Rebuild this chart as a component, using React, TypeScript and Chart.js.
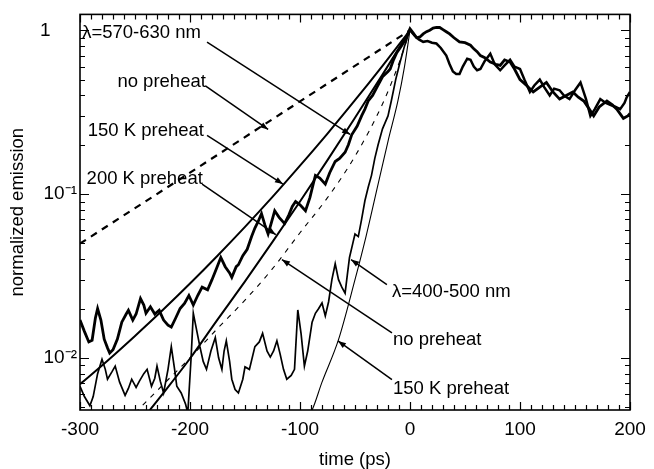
import React, { useEffect, useRef } from 'react';
import Chart from 'chart.js/auto';

// ---------- data ----------
const xTickValues = [-300, -200, -100, 0, 100, 200];
const yTickValues = [0.01, 0.1, 1];
const yTickLabels = ['10\u207B\u00B2', '10\u207B\u00B9', '1     '];

// measured emission, λ = 570-630 nm (thick noisy)
const redTimes = [
  -300, -296, -292, -289, -286, -284, -281, -278, -275, -273,
  -270, -266, -262, -258, -256, -252, -249, -245, -242, -240,
  -236, -232, -228, -224, -220, -217, -213, -209, -205, -201,
  -197, -193, -189, -184, -180, -176, -172, -168, -164, -162,
  -158, -156, -152, -148, -144, -141, -138, -135, -132, -129,
  -126, -123, -119, -114, -110, -107, -104, -100, -95, -91,
  -88, -86, -82, -77, -73, -68, -64, -59, -56, -53,
  -48, -44, -41, -38, -34, -30, -25, -20, -18, -15,
  -12, -8, -5, -2, 0,
  3, 6, 9, 12, 15, 18, 21, 24, 27, 30,
  33, 36, 40, 45, 50, 55, 58, 61, 64, 68,
  73, 78, 82, 86, 91, 95, 100, 106, 112, 118,
  124, 130, 136, 142, 148, 153, 158, 163, 167, 172,
  179, 184, 188, 194, 198, 200,
];
const redValues = [
  0.017, 0.0145, 0.0125, 0.0128, 0.0175, 0.020, 0.017, 0.013, 0.0115, 0.0107,
  0.0112, 0.013, 0.0165, 0.0185, 0.0195, 0.017, 0.0185, 0.023, 0.021, 0.0187,
  0.0205, 0.0185, 0.0195, 0.017, 0.0158, 0.0154, 0.0175, 0.020, 0.0215, 0.024,
  0.021, 0.024, 0.027, 0.026, 0.030, 0.035, 0.041, 0.036, 0.033, 0.031,
  0.036, 0.037, 0.042, 0.046, 0.055, 0.062, 0.068, 0.076, 0.065, 0.057,
  0.067, 0.079, 0.072, 0.066, 0.075, 0.084, 0.090, 0.086, 0.079, 0.095,
  0.115, 0.13, 0.125, 0.115, 0.135, 0.158, 0.165, 0.18, 0.2, 0.23,
  0.26, 0.30, 0.33, 0.37, 0.40, 0.45, 0.52, 0.56, 0.58, 0.66,
  0.73, 0.80, 0.86, 0.95, 1.02,
  0.96, 0.90, 0.91, 0.95, 0.98, 1.0, 1.03, 1.04, 1.04, 1.01,
  0.98, 0.95, 0.90, 0.85, 0.84, 0.81, 0.77, 0.74, 0.70, 0.68,
  0.64, 0.62, 0.61, 0.66, 0.64, 0.58, 0.50, 0.46, 0.42, 0.45,
  0.48, 0.42, 0.38, 0.40, 0.42, 0.39, 0.37, 0.33, 0.30, 0.34,
  0.37, 0.35, 0.33, 0.29, 0.30, 0.31,
];

// measured emission, λ = 400-500 nm (thin noisy)
const blueTimes = [
  -300, -296, -291, -288, -284, -280, -277, -275, -271, -268,
  -264, -259, -256, -253, -249, -246, -242, -239, -235, -232,
  -230, -227, -224, -220, -217, -214, -212, -208, -204, -202,
  -199, -197, -195, -191, -188, -185, -181, -177, -174, -171,
  -169, -167, -164, -162, -159, -156, -152, -150, -146, -141,
  -137, -134, -130, -127, -124, -121, -118, -115, -112, -108,
  -105, -102, -99, -96, -93, -89, -86, -83, -80, -77,
  -74, -71, -68, -65, -62, -59, -57, -55, -52, -50,
  -47, -44, -41, -38, -35, -32, -29, -25, -20, -17,
  -13, -9, -5, -2, 0,
  4, 8, 12, 16, 20, 24, 28, 33, 36, 39,
  42, 45, 48, 52, 55, 58, 61, 64, 68, 73,
  77, 82, 86, 91, 95, 100, 104, 109, 113, 118,
  122, 127, 131, 136, 140, 145, 150, 155, 160, 164,
  168, 173, 178, 182, 187, 191, 195, 197, 200,
];
const blueValues = [
  0.0067, 0.0058, 0.0051, 0.0058, 0.0080, 0.0098, 0.0085, 0.0074, 0.0082, 0.0089,
  0.0071, 0.0059, 0.0065, 0.0074, 0.0066, 0.0072, 0.0080, 0.0085, 0.0067, 0.0075,
  0.0089, 0.0072, 0.0061, 0.0085, 0.0117, 0.0085, 0.0067, 0.0061, 0.0052, 0.0046,
  0.010, 0.0187, 0.016, 0.0117, 0.0095, 0.0085, 0.011, 0.0133, 0.010, 0.0085,
  0.011, 0.0127, 0.0095, 0.0074, 0.0064, 0.0061, 0.0074, 0.0088, 0.0085, 0.0117,
  0.0125, 0.0141, 0.011, 0.0101, 0.0110, 0.0127, 0.0105, 0.0085, 0.0074, 0.0078,
  0.0085, 0.0196, 0.014, 0.0089, 0.011, 0.0165, 0.0187, 0.020, 0.0216, 0.018,
  0.022, 0.030, 0.0375, 0.030, 0.027, 0.0248, 0.032, 0.041, 0.050, 0.057,
  0.055, 0.07, 0.091, 0.11, 0.13, 0.165, 0.20, 0.25, 0.30, 0.37,
  0.50, 0.64, 0.80, 0.92, 1.0,
  0.93, 0.88, 0.85, 0.86, 0.84, 0.83, 0.78, 0.70, 0.62, 0.56,
  0.54, 0.54, 0.60, 0.67, 0.66, 0.60, 0.57, 0.58, 0.65, 0.72,
  0.62, 0.57, 0.61, 0.66, 0.60, 0.58, 0.50, 0.42, 0.46, 0.50,
  0.45, 0.40, 0.44, 0.43, 0.40, 0.38, 0.43, 0.48, 0.38, 0.30,
  0.33, 0.38, 0.36, 0.35, 0.34, 0.33, 0.36, 0.39, 0.42,
];

// model curves
const redNoPreheatTimes = [-300, -200, -100, 0];
const redNoPreheatValues = [0.0498, 0.135, 0.368, 1.0];

const red150Times = [-300, -275, -250, -225, -200, -175, -150, -125, -100, -75, -50, -25, 0];
const red150Values = [0.0069, 0.0096, 0.0136, 0.0195, 0.0284, 0.042, 0.063, 0.096, 0.149, 0.234, 0.374, 0.607, 1.0];

const red200Times = [-250, -225, -200, -175, -150, -125, -100, -75, -50, -25, 0];
const red200Values = [0.0037, 0.0060, 0.0099, 0.0171, 0.0293, 0.051, 0.090, 0.161, 0.292, 0.536, 1.0];

const blueNoPreheatTimes = [-250, -225, -200, -175, -150, -125, -100, -75, -50, -25, -10, 0];
const blueNoPreheatValues = [0.0046, 0.0068, 0.0100, 0.0151, 0.0225, 0.035, 0.058, 0.095, 0.17, 0.355, 0.63, 1.0];

const blue150Times = [-95, -89, -80, -65, -50, -40, -29, -20, -11, -5, 0];
const blue150Values = [0.0042, 0.0048, 0.0071, 0.0129, 0.030, 0.055, 0.115, 0.21, 0.37, 0.6, 1.0];

// annotations (text, anchor in data coords, arrow start, arrow end)
const noteTexts = ['\u03BB=570-630 nm', 'no preheat', '150 K preheat', '200 K preheat', '\u03BB=400-500 nm', 'no preheat', '150 K preheat'];
const noteAnchors = [[-298, 0.97], [-266, 0.484], [-293, 0.244], [-294, 0.123], [-16.4, 0.0251], [-15.5, 0.01286], [-15.5, 0.00649]];
const arrowStarts = [[-184.5, 0.846], [-186, 0.458], [-184.5, 0.228], [-189, 0.115], [-21, 0.028], [-16.4, 0.0142], [-16.4, 0.00736]];
const arrowEnds = [[-54.5, 0.231], [-129, 0.248], [-115.5, 0.115], [-122, 0.0565], [-53.6, 0.0398], [-116.4, 0.0398], [-65.5, 0.01268]];

const FONT = '"Liberation Sans", Arial, Helvetica, sans-serif';

const zip = (t: number[], v: number[]) => t.map((x, i) => ({ x, y: v[i] }));

const framePlugin = {
  id: 'frameTicks',
  afterDatasetsDraw(chart: any) {
    const { ctx, chartArea: a, scales } = chart;
    const xs = scales.x;
    const ys = scales.y;
    ctx.save();
    ctx.strokeStyle = '#000';
    ctx.fillStyle = '#000';
    ctx.lineWidth = 1.6;
    ctx.strokeRect(a.left, a.top, a.right - a.left, a.bottom - a.top);
    // x ticks (inward, top & bottom)
    ctx.lineWidth = 1.2;
    ctx.beginPath();
    for (let t = -300; t <= 200; t += 10) {
      const px = Math.round(xs.getPixelForValue(t)) + 0.5;
      const len = Math.abs(t % 100) === 0 ? 8 : 5;
      ctx.moveTo(px, a.bottom);
      ctx.lineTo(px, a.bottom - len);
      ctx.moveTo(px, a.top);
      ctx.lineTo(px, a.top + len);
    }
    // y ticks (inward, left & right)
    for (let e = -3; e <= 0; e++) {
      for (let m = 1; m <= 9; m++) {
        const v = m * Math.pow(10, e);
        if (v < ys.min || v > ys.max) continue;
        const py = Math.round(ys.getPixelForValue(v)) + 0.5;
        const len = m === 1 ? 9 : 5;
        ctx.moveTo(a.left, py);
        ctx.lineTo(a.left + len, py);
        ctx.moveTo(a.right, py);
        ctx.lineTo(a.right - len, py);
      }
    }
    ctx.stroke();

    // annotations
    ctx.font = '18.5px ' + FONT;
    ctx.textBaseline = 'middle';
    ctx.textAlign = 'left';
    noteTexts.forEach((txt, i) => {
      const [tx, ty] = noteAnchors[i];
      ctx.fillText(txt, xs.getPixelForValue(tx), ys.getPixelForValue(ty));
      const x0 = xs.getPixelForValue(arrowStarts[i][0]);
      const y0 = ys.getPixelForValue(arrowStarts[i][1]);
      const x1 = xs.getPixelForValue(arrowEnds[i][0]);
      const y1 = ys.getPixelForValue(arrowEnds[i][1]);
      ctx.lineWidth = 1.5;
      ctx.beginPath();
      ctx.moveTo(x0, y0);
      ctx.lineTo(x1, y1);
      ctx.stroke();
      const ang = Math.atan2(y1 - y0, x1 - x0);
      const L = 8, W = 3;
      ctx.beginPath();
      ctx.moveTo(x1, y1);
      ctx.lineTo(x1 - L * Math.cos(ang) + W * Math.sin(ang), y1 - L * Math.sin(ang) - W * Math.cos(ang));
      ctx.lineTo(x1 - L * Math.cos(ang) - W * Math.sin(ang), y1 - L * Math.sin(ang) + W * Math.cos(ang));
      ctx.closePath();
      ctx.fill();
    });
    ctx.restore();
  },
};

export default function App() {
  const ref = useRef<HTMLCanvasElement>(null);
  useEffect(() => {
    const line = (data: any, extra: any) => ({
      data,
      borderColor: '#000',
      backgroundColor: '#000',
      pointRadius: 0,
      fill: false,
      ...extra,
    });
    const chart = new Chart(ref.current as HTMLCanvasElement, {
      type: 'line',
      data: {
        datasets: [
          line(zip(redNoPreheatTimes, redNoPreheatValues), { borderWidth: 2.2, borderDash: [7, 6] }),
          line(zip(red150Times, red150Values), { borderWidth: 2, cubicInterpolationMode: 'monotone' }),
          line(zip(red200Times, red200Values), { borderWidth: 2, cubicInterpolationMode: 'monotone' }),
          line(zip(blueNoPreheatTimes, blueNoPreheatValues), { borderWidth: 1.1, borderDash: [5, 6], cubicInterpolationMode: 'monotone' }),
          line(zip(blue150Times, blue150Values), { borderWidth: 1.1, cubicInterpolationMode: 'monotone' }),
          line(zip(blueTimes, blueValues), {
            borderWidth: 1.7,
            segment: { borderWidth: (c: any) => (c.p0.parsed.x >= 0 ? 2.5 : 1.7) },
          }),
          line(zip(redTimes, redValues), { borderWidth: 2.8 }),
        ],
      },
      options: {
        animation: false,
        responsive: false,
        events: [],
        layout: { padding: { top: 12, right: 24, left: 0, bottom: 0 } },
        plugins: { legend: { display: false }, tooltip: { enabled: false } },
        scales: {
          x: {
            type: 'linear',
            min: -300,
            max: 200,
            grid: { display: false, drawTicks: false },
            border: { display: false },
            afterBuildTicks: (s: any) => {
              s.ticks = xTickValues.map((v) => ({ value: v }));
            },
            afterFit: (s: any) => {
              s.height = 59;
            },
            ticks: {
              color: '#000',
              padding: 8,
              maxRotation: 0,
              autoSkip: false,
              font: { family: FONT, size: 19 },
              callback: (v: any) => String(v),
            },
            title: {
              display: true,
              text: 'time (ps)',
              color: '#000',
              font: { family: FONT, size: 18.5, lineHeight: 1 },
              padding: { top: 0, bottom: 0 },
            },
          },
          y: {
            type: 'logarithmic',
            min: 0.0048,
            max: 1.25,
            grid: { display: false, drawTicks: false },
            border: { display: false },
            afterBuildTicks: (s: any) => {
              s.ticks = yTickValues.map((v) => ({ value: v }));
            },
            afterFit: (s: any) => {
              s.width = 80;
            },
            ticks: {
              color: '#000',
              padding: 3,
              autoSkip: false,
              font: { family: FONT, size: 19 },
              callback: (v: any) => {
                const i = yTickValues.findIndex((t) => Math.abs(t - v) < 1e-9);
                return i >= 0 ? yTickLabels[i] : '';
              },
            },
            title: {
              display: true,
              text: 'normalized emission',
              color: '#000',
              font: { family: FONT, size: 18.5, lineHeight: 1 },
              padding: { top: 9, bottom: 0 },
            },
          },
        },
      },
      plugins: [framePlugin],
    });
    return () => chart.destroy();
  }, []);
  return (
    <div style={{ position: 'fixed', left: 0, top: 0, width: 654, height: 469, background: '#fff' }}>
      <canvas ref={ref} width={654} height={469} style={{ display: 'block', width: 654, height: 469 }} />
    </div>
  );
}
